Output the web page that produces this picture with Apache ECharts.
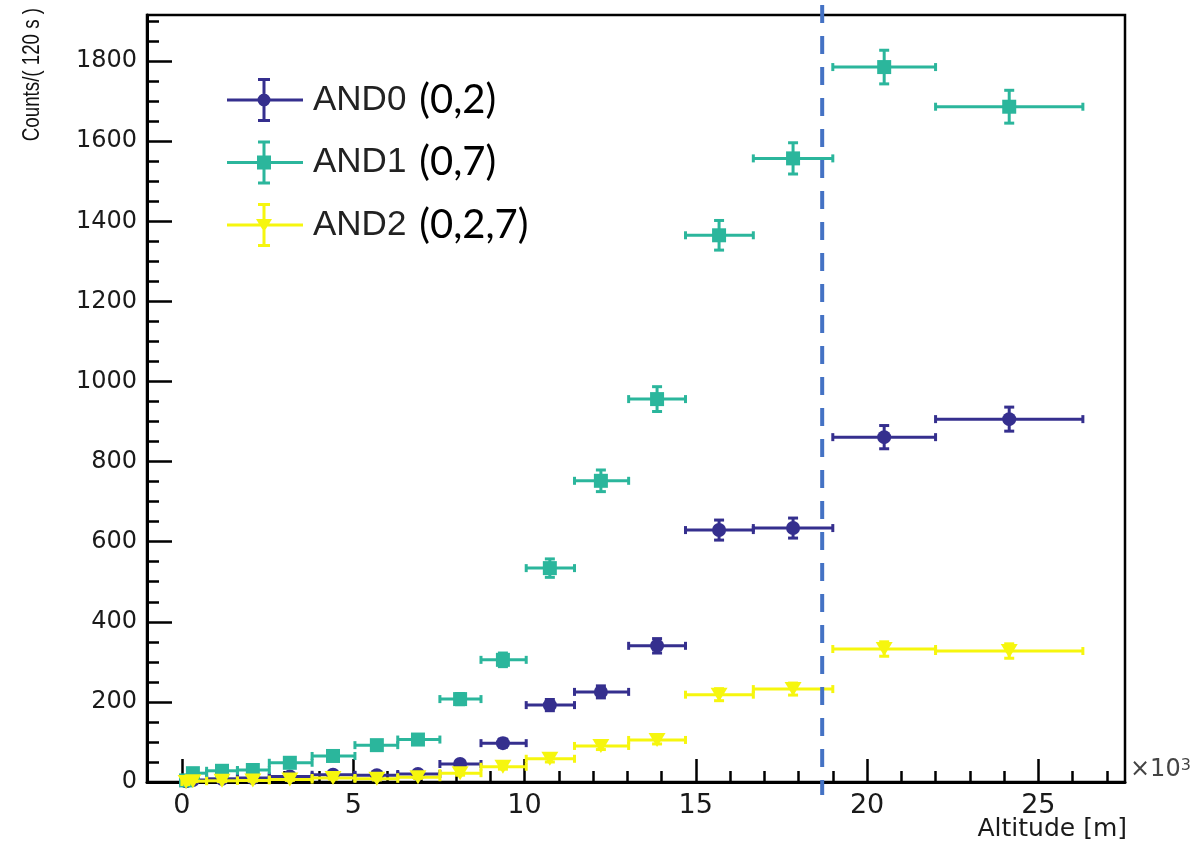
<!DOCTYPE html>
<html>
<head>
<meta charset="utf-8">
<script src="https://cdn.jsdelivr.net/npm/echarts@6/dist/echarts.min.js"></script>
<style>html,body{margin:0;padding:0;background:#fff}#c{width:1196px;height:852px}</style>
</head>
<body>
<div id="c"></div>
<script>
// ---- data (altitude in units of 10^3 m) ----
const altitude = [0.12, 0.32, 1.17, 2.07, 3.15, 4.41, 5.69, 6.89, 8.12, 9.37, 10.74, 12.23, 13.87, 15.68, 17.84, 20.50, 24.15];
const binLow   = [0.00, 0.20, 0.72, 1.62, 2.55, 3.80, 5.05, 6.30, 7.53, 8.73, 10.05, 11.46, 13.04, 14.70, 16.68, 19.00, 22.00];
const binHigh  = [0.20, 0.72, 1.62, 2.55, 3.80, 5.05, 6.30, 7.53, 8.73, 10.05, 11.46, 13.04, 14.70, 16.68, 19.00, 22.00, 26.30];

const and0    = [2, 5, 8, 10, 14, 18, 17, 20, 45, 97, 192, 225, 340, 629, 634, 861, 906];
const and0Err = [1, 2, 3, 3, 4, 4, 4, 4, 7, 10, 14, 15, 18, 25, 25, 29, 30];
const and1    = [4, 22, 28, 30, 48, 65, 92, 106, 207, 305, 534, 752, 956, 1365, 1557, 1785, 1686];
const and1Err = [2, 5, 5, 5, 7, 8, 10, 10, 14, 17, 23, 27, 31, 37, 39, 42, 41];
const and2    = [0, 2, 3, 4, 6, 10, 8, 12, 22, 38, 58, 90, 105, 218, 232, 332, 327];
const and2Err = [0, 1, 2, 2, 2, 3, 3, 3, 5, 6, 8, 9, 10, 15, 15, 18, 18];

const seriesNames = ['AND0 (0,2)', 'AND1 (0,7)', 'AND2 (0,2,7)'];
const xTickLabels = [0, 5, 10, 15, 20, 25];
const yTickLabels = [0, 200, 400, 600, 800, 1000, 1200, 1400, 1600, 1800];
const cutAltitude = 18.69;

// ---- axis ranges / styling ----
const xMin = -1.02, xMax = 27.53, yMin = 0, yMax = 1915;
const xMinor = []; for (let v = -1; v <= 27; v += 1) xMinor.push(v);
const yMinor = []; for (let v = 0; v <= 1900; v += 50) yMinor.push(v);

const colors = ['#352F8E', '#2BB69C', '#F6F60E'];
const symbols = ['circle', 'rect', 'triangle'];
const symbolSizes = [14, 14, [17, 14]];
const symbolRot = [0, 0, 180];

const base = 'M0,20.5 H76 V23.5 H0 Z M35.5,1 H38.5 V43 H35.5 Z M31,0 H43 V3 H31 Z M31,41 H43 V44 H31 Z ';
const icons = [
  'path://' + base + 'M43.5,22 A6.5,6.5 0 1 1 30.5,22 A6.5,6.5 0 1 1 43.5,22 Z',
  'path://' + base + 'M30,15 H44 V29 H30 Z',
  'path://' + base + 'M29,16 H45 L37,29 Z'
];

const values = [and0, and1, and2];
const errors = [and0Err, and1Err, and2Err];

function errRender(params, api) {
  const x = api.value(0), lo = api.value(1), hi = api.value(2), y = api.value(3), e = api.value(4);
  const pL = api.coord([lo, y]), pR = api.coord([hi, y]);
  const pT = api.coord([x, y + e]), pB = api.coord([x, y - e]);
  const color = api.visual('color');
  const st = { stroke: color, lineWidth: 3 };
  return {
    type: 'group',
    children: [
      { type: 'line', shape: { x1: pL[0], y1: pL[1], x2: pR[0], y2: pR[1] }, style: st },
      { type: 'line', shape: { x1: pL[0], y1: pL[1] - 4, x2: pL[0], y2: pL[1] + 4 }, style: st },
      { type: 'line', shape: { x1: pR[0], y1: pR[1] - 4, x2: pR[0], y2: pR[1] + 4 }, style: st },
      { type: 'line', shape: { x1: pT[0], y1: pT[1], x2: pB[0], y2: pB[1] }, style: st },
      { type: 'line', shape: { x1: pT[0] - 5, y1: pT[1], x2: pT[0] + 5, y2: pT[1] }, style: st },
      { type: 'line', shape: { x1: pB[0] - 5, y1: pB[1], x2: pB[0] + 5, y2: pB[1] }, style: st }
    ]
  };
}

const series = [];
values.forEach((vals, i) => {
  series.push({
    name: seriesNames[i], type: 'custom', renderItem: errRender, z: 2 + i * 2,
    itemStyle: { color: colors[i] },
    encode: { x: [0, 1, 2], y: 3 },
    data: altitude.map((a, k) => [a, binLow[k], binHigh[k], vals[k], errors[i][k]])
  });
  series.push({
    name: seriesNames[i], type: 'scatter', z: 3 + i * 2,
    symbol: symbols[i], symbolSize: symbolSizes[i], symbolRotate: symbolRot[i],
    itemStyle: { color: colors[i], opacity: 1 },
    data: altitude.map((a, k) => [a, vals[k]])
  });
});
series.push({
  type: 'custom', clip: false, silent: true, z: 20,
  encode: { x: 0, y: 1 },
  data: [[cutAltitude, 0]],
  renderItem(params, api) {
    const top = api.coord([api.value(0), yMax]);
    const bot = api.coord([api.value(0), yMin]);
    return { type: 'line', shape: { x1: top[0], y1: top[1] - 10, x2: bot[0], y2: bot[1] + 13 },
             style: { stroke: '#4472C4', lineWidth: 4, lineDash: [18, 13] } };
  }
});

const tickStyle = { color: '#000', width: 2.5 };
const labelFont = 'DejaVu Sans';
const plain = v => String(v);

const option = {
  animation: false,
  backgroundColor: '#fff',
  grid: { left: 147, top: 15, width: 978, height: 767, show: true, borderColor: '#000', borderWidth: 2.5,
          backgroundColor: '#fff', containLabel: false, outerBoundsMode: 'none' },
  xAxis: [
    {
      type: 'value', min: xMin, max: xMax, position: 'bottom',
      axisLine: { show: true, onZero: false, lineStyle: { color: '#000', width: 3 } },
      axisTick: { show: true, inside: true, length: 23, customValues: xTickLabels, lineStyle: tickStyle },
      axisLabel: { customValues: xTickLabels, formatter: plain, margin: 10, color: '#1a1a1a', fontFamily: labelFont, fontSize: 27 },
      splitLine: { show: false }
    },
    {
      type: 'value', min: xMin, max: xMax, position: 'bottom',
      axisLine: { show: false, onZero: false },
      axisTick: { show: true, inside: true, length: 11, customValues: xMinor, lineStyle: tickStyle },
      axisLabel: { show: false },
      splitLine: { show: false },
      name: '×10{s|3}', nameLocation: 'end', nameGap: 5,
      nameTextStyle: { align: 'left', verticalAlign: 'bottom', fontFamily: labelFont, fontSize: 24, color: '#444',
        rich: { s: { fontFamily: labelFont, fontSize: 16, color: '#444', verticalAlign: 'top' } } }
    }
  ],
  yAxis: [
    {
      type: 'value', min: yMin, max: yMax, position: 'left',
      axisLine: { show: true, onZero: false, lineStyle: { color: '#000', width: 3 } },
      axisTick: { show: true, inside: true, length: 25, customValues: yTickLabels, lineStyle: tickStyle },
      axisLabel: { customValues: yTickLabels, formatter: plain, margin: 10, color: '#1a1a1a', fontFamily: labelFont, fontSize: 24 },
      splitLine: { show: false }
    },
    {
      type: 'value', min: yMin, max: yMax, position: 'left', offset: 0,
      axisLine: { show: false, onZero: false },
      axisTick: { show: true, inside: true, length: 12, customValues: yMinor, lineStyle: tickStyle },
      axisLabel: { show: false },
      splitLine: { show: false }
    }
  ],
  legend: {
    left: 222, top: 73, orient: 'vertical', itemWidth: 76, itemHeight: 44, itemGap: 18.5,
    selectedMode: false,
    data: seriesNames.map((n, i) => ({ name: n, icon: icons[i], itemStyle: { color: colors[i], borderWidth: 0 } })),
    formatter: n => { const k = n.indexOf(' '); return '{a|' + n.slice(0, k) + '}{b|' + n.slice(k + 1) + '}'; },
    textStyle: {
      padding: [0, 0, 0, 5],
      rich: {
        a: { fontFamily: 'Liberation Sans', fontSize: 35, color: '#222' },
        b: { fontFamily: 'Lato', fontSize: 40, color: '#000', padding: [0, 0, 0, 13] }
      }
    }
  },
  graphic: [
    {
      type: 'text', x: 32, y: 8, rotation: Math.PI / 2, scaleX: 0.78,
      style: { text: 'Counts/( 120 s )', align: 'right', verticalAlign: 'middle',
               font: "24px 'Liberation Sans', sans-serif", fill: '#111' }
    },
    {
      type: 'text', x: 1127, y: 829,
      style: { text: 'Altitude [m]', align: 'right', verticalAlign: 'middle',
               font: "25px 'DejaVu Sans', sans-serif", fill: '#1a1a1a' }
    }
  ],
  series: series
};

const chart = echarts.init(document.getElementById('c'), null, { renderer: 'canvas' });
chart.setOption(option);
</script>
</body>
</html>
